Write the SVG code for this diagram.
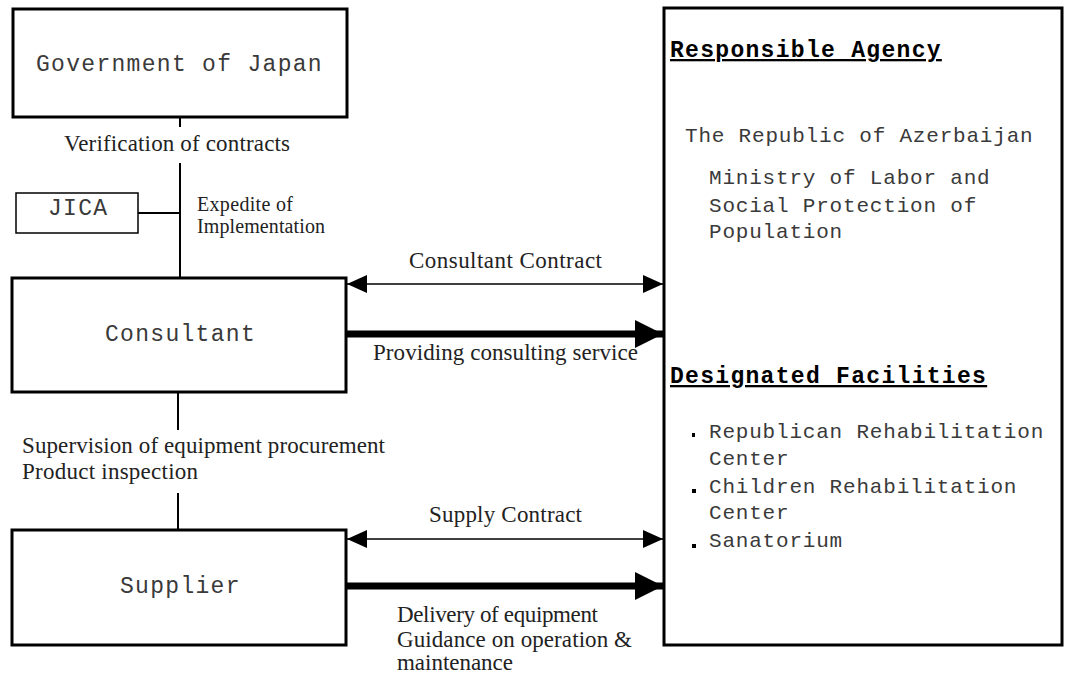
<svg xmlns="http://www.w3.org/2000/svg" width="1065" height="675" viewBox="0 0 1065 675">
<style>
.box{fill:#fff;stroke:#000;stroke-width:3}
.thin{fill:#fff;stroke:#000;stroke-width:1.5}
.mono{font-family:"Liberation Mono","DejaVu Sans Mono",monospace;fill:#3a3a3a}
.big{font-size:23px;letter-spacing:1.3px}
.mid{font-size:21px;letter-spacing:0.8px}
.head{font-size:23px;font-weight:bold;letter-spacing:1.3px;fill:#000;text-decoration:underline}
.serif{font-family:"Liberation Serif","DejaVu Serif",serif;font-size:23px;fill:#222}
.sm{font-size:20px}
.ln{stroke:#000;stroke-width:2;fill:none}
.hl{stroke:#000;stroke-width:1.5;fill:none}
.tk{stroke:#000;stroke-width:7;fill:none}
</style>
<defs>
<marker id="ah" viewBox="0 0 20 18" refX="20" refY="9" markerWidth="20" markerHeight="18" markerUnits="userSpaceOnUse" orient="auto-start-reverse"><path d="M0,0 L20,9 L0,18 Z" fill="#000"/></marker>
<marker id="ahb" viewBox="0 0 28 28" refX="28" refY="14" markerWidth="28" markerHeight="28" markerUnits="userSpaceOnUse" orient="auto"><path d="M0,0 L28,14 L0,28 Z" fill="#000"/></marker>
</defs>
<rect width="1065" height="675" fill="#fff"/>
<g id="connectors">
<line class="ln" x1="180" y1="117" x2="180" y2="127"/>
<line class="ln" x1="180" y1="163" x2="180" y2="278"/>
<line class="ln" x1="138" y1="213" x2="180" y2="213"/>
<line class="ln" x1="178" y1="392" x2="178" y2="430"/>
<line class="ln" x1="178" y1="493" x2="178" y2="530"/>
<line class="hl" x1="347" y1="284" x2="663" y2="284" marker-start="url(#ah)" marker-end="url(#ah)"/>
<line class="tk" x1="347" y1="334" x2="663" y2="334" marker-end="url(#ahb)"/>
<line class="hl" x1="347" y1="539" x2="663" y2="539" marker-start="url(#ah)" marker-end="url(#ah)"/>
<line class="tk" x1="347" y1="586" x2="663" y2="586" marker-end="url(#ahb)"/>
<text class="serif" x="64" y="151" textLength="226">Verification of contracts</text>
<text class="serif sm" x="197" y="211" textLength="96">Expedite of</text>
<text class="serif sm" x="197" y="233" textLength="128">Implementation</text>
<text class="serif" x="409" y="268" textLength="193">Consultant Contract</text>
<text class="serif" x="373" y="360" textLength="265">Providing consulting service</text>
<text class="serif" x="22" y="453" textLength="363">Supervision of equipment procurement</text>
<text class="serif" x="22" y="479" textLength="176">Product inspection</text>
<text class="serif" x="429" y="522" textLength="153">Supply Contract</text>
<text class="serif" x="397" y="622" textLength="201">Delivery of equipment</text>
<text class="serif" x="397" y="647" textLength="235">Guidance on operation &amp;</text>
<text class="serif" x="397" y="670" textLength="116">maintenance</text>
</g>
<g id="gov">
<rect class="box" x="13" y="9" width="334" height="108"/>
<text class="mono big" x="36" y="71">Government of Japan</text>
</g>
<g id="jica">
<rect class="thin" x="16" y="193" width="122" height="40"/>
<text class="mono big" x="48" y="215">JICA</text>
</g>
<g id="consultant">
<rect class="box" x="12" y="278" width="334" height="114"/>
<text class="mono big" x="105" y="341">Consultant</text>
</g>
<g id="supplier">
<rect class="box" x="12" y="530" width="334" height="115"/>
<text class="mono big" x="120" y="593">Supplier</text>
</g>
<g id="agency">
<rect class="box" x="664" y="8" width="398" height="637"/>
<text class="mono head" x="670" y="57">Responsible Agency</text>
<text class="mono mid" x="685" y="142">The Republic of Azerbaijan</text>
<text class="mono mid" x="709" y="184">Ministry of Labor and</text>
<text class="mono mid" x="709" y="212">Social Protection of</text>
<text class="mono mid" x="709" y="238">Population</text>
<text class="mono head" x="670" y="383">Designated Facilities</text>
<rect x="692" y="433" width="3" height="4" fill="#000"/>
<rect x="692" y="489" width="4" height="4" fill="#000"/>
<rect x="692" y="544" width="4" height="4" fill="#000"/>
<text class="mono mid" x="709" y="438">Republican Rehabilitation</text>
<text class="mono mid" x="709" y="465">Center</text>
<text class="mono mid" x="709" y="493">Children Rehabilitation</text>
<text class="mono mid" x="709" y="519">Center</text>
<text class="mono mid" x="709" y="547">Sanatorium</text>
</g>
</svg>
